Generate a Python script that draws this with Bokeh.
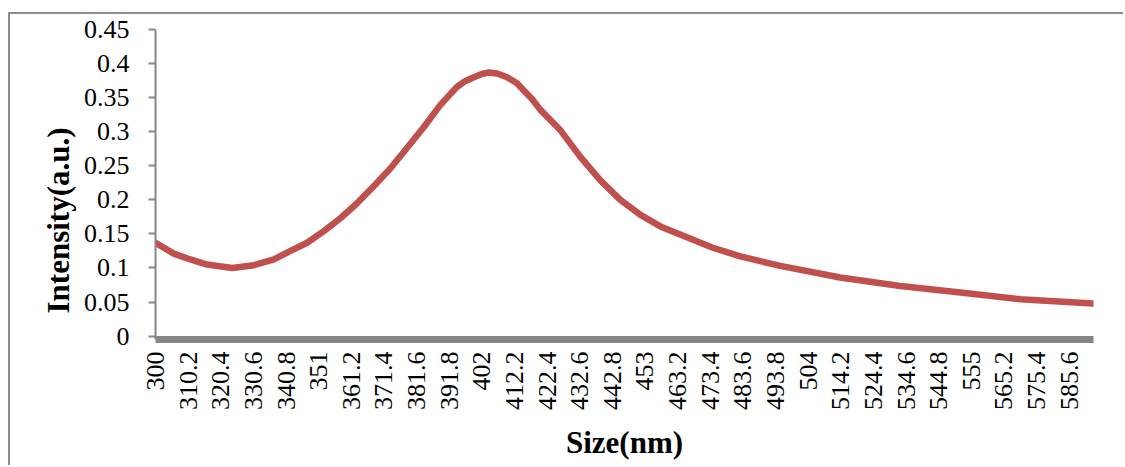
import math
from bokeh.plotting import figure
from bokeh.models import Range1d, FixedTicker, CustomJSTickFormatter, Title
from bokeh.embed import file_html
from bokeh.resources import INLINE

# Data
size_nm = [300.0, 305.7, 310.9, 316.1, 324.0, 330.7, 337.0, 342.2, 347.4, 352.6,
           357.8, 363.0, 368.2, 373.4, 378.6, 383.9, 389.0, 391.7, 394.3, 396.9,
           399.5, 401.6, 404.2, 406.8, 409.9, 413.0, 415.2, 417.7, 420.3, 426.6,
           432.8, 439.0, 445.3, 451.6, 457.8, 464.0, 474.0, 482.8, 495.3, 514.0,
           532.8, 551.6, 570.3, 593.0]
intensity = [0.137, 0.121, 0.1125, 0.105, 0.100, 0.104, 0.1125, 0.125, 0.137, 0.154,
             0.173, 0.195, 0.220, 0.246, 0.276, 0.307, 0.339, 0.353, 0.366, 0.3745,
             0.380, 0.384, 0.387, 0.3855, 0.380, 0.371, 0.360, 0.348, 0.332, 0.302,
             0.263, 0.229, 0.200, 0.178, 0.161, 0.149, 0.130, 0.117, 0.103, 0.086,
             0.0735, 0.064, 0.054, 0.048]

x_ticks = [300, 310.2, 320.4, 330.6, 340.8, 351, 361.2, 371.4, 381.6, 391.8,
           402, 412.2, 422.4, 432.6, 442.8, 453, 463.2, 473.4, 483.6, 493.8,
           504, 514.2, 524.4, 534.6, 544.8, 555, 565.2, 575.4, 585.6]
y_ticks = [0, 0.05, 0.1, 0.15, 0.2, 0.25, 0.3, 0.35, 0.4, 0.45]

x_title = "Size(nm)"
y_title = "Intensity(a.u.)"

SERIF = "Liberation Serif"
GRAY = "#868686"

p = figure(width=1115, height=453, output_backend="svg", toolbar_location=None,
           x_range=Range1d(300, 593.2), y_range=Range1d(-0.005, 0.45),
           min_border_left=145, min_border_right=32, min_border_top=15,
           min_border_bottom=128)
p.styles = {"margin-left": "8px", "margin-top": "12px",
            "border-top": "2px solid #8c8c8c", "border-left": "2px solid #8c8c8c"}
p.grid.visible = False
p.outline_line_color = None
p.background_fill_color = "white"
p.border_fill_color = "white"

p.line(size_nm, intensity, line_color="#C0504D", line_width=6.5,
       line_cap="round", line_join="round")

fmt = CustomJSTickFormatter(code="return String(tick);")

xa = p.xaxis[0]
xa.ticker = FixedTicker(ticks=x_ticks)
xa.formatter = fmt
xa.major_label_orientation = math.pi / 2
xa.axis_line_color = GRAY
xa.axis_line_width = 7
xa.major_tick_out = 0
xa.major_tick_in = 0
xa.minor_tick_out = 0
xa.minor_tick_in = 0
xa.major_label_standoff = 12
xa.major_label_text_font = SERIF
xa.major_label_text_font_size = "26px"
xa.major_label_text_color = "black"
xa.axis_label = x_title
xa.axis_label_text_font = SERIF
xa.axis_label_text_font_size = "31px"
xa.axis_label_text_font_style = "bold"
xa.axis_label_text_color = "black"
xa.axis_label_standoff = 12

ya = p.yaxis[0]
ya.ticker = FixedTicker(ticks=y_ticks)
ya.formatter = fmt
ya.axis_line_color = GRAY
ya.axis_line_width = 2
ya.major_tick_out = 7
ya.major_tick_in = 0
ya.major_tick_line_color = GRAY
ya.major_tick_line_width = 2
ya.minor_tick_out = 0
ya.minor_tick_in = 0
ya.major_label_standoff = 19
ya.major_label_text_font = SERIF
ya.major_label_text_font_size = "26px"
ya.major_label_text_color = "black"

p.add_layout(Title(text=y_title, align="left", offset=26,
                   text_font=SERIF, text_font_size="31px", text_font_style="bold",
                   text_color="black"), "left")

open("out.html", "w").write(file_html(p, INLINE))
